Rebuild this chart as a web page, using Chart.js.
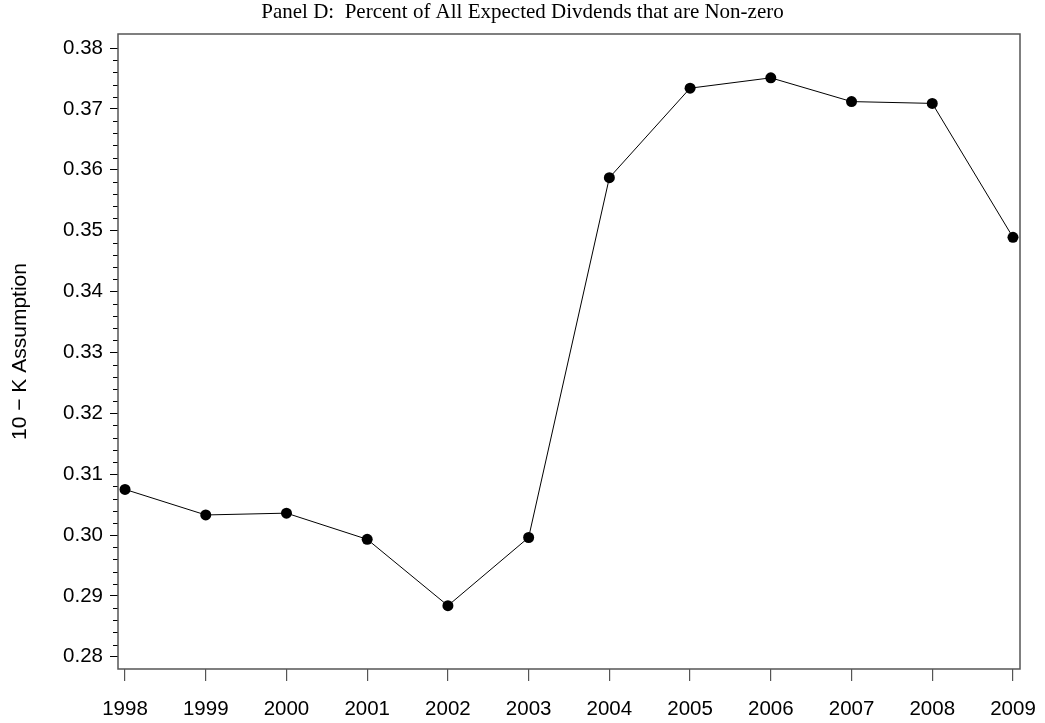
<!DOCTYPE html>
<html>
<head>
<meta charset="utf-8">
<script src="https://cdn.jsdelivr.net/npm/chart.js@4/dist/chart.umd.min.js"></script>
<style>
  html, body { margin: 0; padding: 0; background: #ffffff; }
  #wrap { width: 1045px; height: 723px; }
</style>
</head>
<body>
<div id="wrap"><canvas id="c" width="1045" height="723"></canvas></div>
<script>
const years = [1998, 1999, 2000, 2001, 2002, 2003, 2004, 2005, 2006, 2007, 2008, 2009];
const values = [0.3075, 0.3033, 0.3036, 0.2993, 0.2884, 0.2996, 0.3587, 0.3734, 0.3751, 0.3712, 0.3709, 0.3489];
const yMajorTicks = [0.28, 0.29, 0.30, 0.31, 0.32, 0.33, 0.34, 0.35, 0.36, 0.37, 0.38];
const yMinorStep = 0.002;
const titleText = 'Panel D:  Percent of All Expected Divdends that are Non-zero';
const yTitleText = '10 \u2212 K Assumption';

const points = years.map((yr, i) => ({ x: yr, y: values[i] }));

const centerTitle = {
  id: 'centerTitle',
  afterLayout(chart) {
    const t = chart.titleBlock;
    if (t) { t.left = 0; t.right = chart.width; t.width = chart.width; }
  }
};

const boxAndMinor = {
  id: 'boxAndMinor',
  afterDraw(chart) {
    const ctx = chart.ctx;
    const a = chart.chartArea;
    const ys = chart.scales.y;
    ctx.save();
    ctx.strokeStyle = '#000';
    ctx.lineWidth = 1;
    ctx.beginPath();
    const lo = yMajorTicks[0], hi = yMajorTicks[yMajorTicks.length - 1];
    const n = Math.round((hi - lo) / yMinorStep);
    for (let k = 0; k <= n; k++) {
      if (k % 5 === 0) continue;
      const v = lo + k * yMinorStep;
      const py = Math.round(ys.getPixelForValue(v)) + 0.5;
      ctx.moveTo(a.left - 5, py);
      ctx.lineTo(a.left, py);
    }
    ctx.stroke();
    ctx.strokeStyle = '#555';
    ctx.lineWidth = 1.5;
    ctx.strokeRect(a.left, a.top, a.right - a.left, a.bottom - a.top);
    ctx.restore();
  }
};

new Chart(document.getElementById('c'), {
  type: 'scatter',
  data: {
    datasets: [{
      data: points,
      showLine: true,
      borderColor: '#000',
      borderWidth: 1,
      pointRadius: 5.5,
      pointHoverRadius: 5.5,
      pointBackgroundColor: '#000',
      pointBorderColor: '#000',
      pointBorderWidth: 0
    }]
  },
  options: {
    responsive: false,
    animation: false,
    devicePixelRatio: 1,
    layout: { padding: { left: 0, right: 25, top: 0, bottom: 0 } },
    plugins: {
      legend: { display: false },
      tooltip: { enabled: false },
      title: {
        display: true,
        text: titleText,
        color: '#000',
        font: { family: '"Liberation Serif", "Times New Roman", serif', size: 21, weight: 'normal' },
        padding: { top: 0, bottom: 8.8 }
      }
    },
    scales: {
      x: {
        type: 'linear',
        min: 1997.913,
        max: 2009.087,
        afterBuildTicks: s => { s.ticks = years.map(v => ({ value: v })); },
        afterFit: s => { s.height = 54; s.paddingLeft = 0; s.paddingRight = 0; },
        border: { display: false },
        grid: { display: true, drawOnChartArea: false, drawTicks: true, tickLength: 12, color: '#555', tickColor: '#555', lineWidth: 1.2 },
        ticks: {
          autoSkip: false, maxRotation: 0, minRotation: 0, padding: 16, color: '#000',
          font: { family: '"Liberation Sans", Arial, Helvetica, sans-serif', size: 20.5 },
          callback: v => String(v)
        }
      },
      y: {
        type: 'linear',
        min: 0.2780,
        max: 0.3823,
        afterBuildTicks: s => { s.ticks = yMajorTicks.map(v => ({ value: v })); },
        afterFit: s => { s.width = 118; s.paddingTop = 0; s.paddingBottom = 0; },
        border: { display: false },
        grid: { display: true, drawOnChartArea: false, drawTicks: true, tickLength: 8, color: '#000', tickColor: '#000', lineWidth: 1 },
        ticks: {
          autoSkip: false, padding: 7, color: '#000',
          font: { family: '"Liberation Sans", Arial, Helvetica, sans-serif', size: 20.5 },
          callback: v => Number(v).toFixed(2)
        },
        title: {
          display: true,
          text: yTitleText,
          color: '#000',
          font: { family: '"Liberation Sans", Arial, Helvetica, sans-serif', size: 21 },
          padding: { top: 8, bottom: 0 }
        }
      }
    }
  },
  plugins: [centerTitle, boxAndMinor]
});
</script>
</body>
</html>
